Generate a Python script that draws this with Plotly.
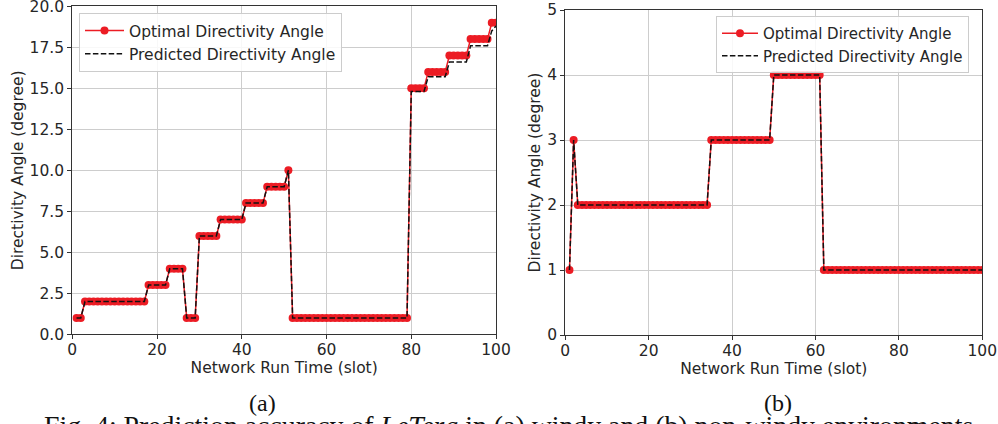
import plotly.graph_objects as go

slots = list(range(1, 101))

# (a) windy environment
optimal_a = [1, 1,
             2, 2, 2, 2, 2, 2, 2, 2, 2, 2, 2, 2, 2, 2, 2,
             3, 3, 3, 3, 3,
             4, 4, 4, 4,
             1, 1, 1,
             6, 6, 6, 6, 6,
             7, 7, 7, 7, 7, 7,
             8, 8, 8, 8, 8,
             9, 9, 9, 9, 9,
             10,
             1, 1, 1, 1, 1, 1, 1, 1, 1, 1, 1, 1, 1, 1, 1, 1, 1, 1, 1, 1, 1, 1, 1, 1, 1, 1, 1, 1,
             15, 15, 15, 15,
             16, 16, 16, 16, 16,
             17, 17, 17, 17, 17,
             18, 18, 18, 18, 18,
             19, 19]
predicted_a = [1, 1,
               2, 2, 2, 2, 2, 2, 2, 2, 2, 2, 2, 2, 2, 2, 2,
               3, 3, 3, 3, 3,
               4, 4, 4, 4,
               1, 1, 1,
               6, 6, 6, 6, 6,
               7, 7, 7, 7, 7, 7,
               8, 8, 8, 8, 8,
               9, 9, 9, 9, 9,
               10,
               1, 1, 1, 1, 1, 1, 1, 1, 1, 1, 1, 1, 1, 1, 1, 1, 1, 1, 1, 1, 1, 1, 1, 1, 1, 1, 1, 1,
               14.8, 14.8, 14.8, 14.8,
               15.7, 15.7, 15.7, 15.7, 15.7,
               16.6, 16.6, 16.6, 16.6, 16.6,
               17.6, 17.6, 17.6, 17.6, 17.6,
               18.5, 18.8]

# (b) non-windy environment
optimal_b = [1, 3,
             2, 2, 2, 2, 2, 2, 2, 2, 2, 2, 2, 2, 2, 2, 2, 2, 2, 2, 2, 2, 2, 2, 2, 2, 2, 2, 2, 2, 2, 2, 2, 2,
             3, 3, 3, 3, 3, 3, 3, 3, 3, 3, 3, 3, 3, 3, 3,
             4, 4, 4, 4, 4, 4, 4, 4, 4, 4, 4, 4,
             1, 1, 1, 1, 1, 1, 1, 1, 1, 1, 1, 1, 1, 1, 1, 1, 1, 1, 1, 1, 1, 1, 1, 1, 1, 1, 1, 1, 1, 1,
             1, 1, 1, 1, 1, 1, 1, 1, 1]
predicted_b = list(optimal_b)

x_ticks = [0, 20, 40, 60, 80, 100]

RED = "#ec1c24"
FONT = "DejaVu Sans"
FS = 15.5
TXT = "#262626"
W, H = 998, 424

fig = go.Figure()
fig.add_trace(go.Scatter(x=slots, y=optimal_a, mode="lines+markers", name="Optimal Directivity Angle",
                         line=dict(color=RED, width=1.5), marker=dict(color=RED, size=8),
                         xaxis="x", yaxis="y", legend="legend"))
fig.add_trace(go.Scatter(x=slots, y=predicted_a, mode="lines", name="Predicted Directivity Angle",
                         line=dict(color="#111111", width=1.5, dash="5.5px,2.4px"),
                         xaxis="x", yaxis="y", legend="legend"))
fig.add_trace(go.Scatter(x=slots, y=optimal_b, mode="lines+markers", name="Optimal Directivity Angle",
                         line=dict(color=RED, width=1.5), marker=dict(color=RED, size=8),
                         xaxis="x2", yaxis="y2", legend="legend2"))
fig.add_trace(go.Scatter(x=slots, y=predicted_b, mode="lines", name="Predicted Directivity Angle",
                         line=dict(color="#111111", width=1.5, dash="5.5px,2.4px"),
                         xaxis="x2", yaxis="y2", legend="legend2"))

axis_common = dict(showline=True, mirror=True, linecolor="#333333", linewidth=1.2,
                   ticks="outside", ticklen=4, tickwidth=1, tickcolor="#333333",
                   showgrid=True, gridcolor="#cdcdcd", gridwidth=1, zeroline=False,
                   ticklabeloverflow="allow",
                   tickfont=dict(family=FONT, size=FS, color=TXT), automargin=False)
title_font = dict(family=FONT, size=FS, color=TXT)

fig.update_layout(
    width=W, height=H,
    margin=dict(l=0, r=0, t=0, b=0, autoexpand=False),
    paper_bgcolor="white", plot_bgcolor="white",
    xaxis=dict(domain=[72.3 / W, 496.0 / W], range=[0, 100], tickvals=x_ticks, ticklabelstandoff=-3,
               title=dict(text="Network Run Time (slot)", font=title_font, standoff=2),
               anchor="y", **axis_common),
    yaxis=dict(domain=[1 - 334.3 / H, 1 - 6.3 / H], range=[0, 20], tickmode="linear", tick0=0, dtick=2.5,
               tickformat=".1f",
               title=dict(text="Directivity Angle (degree)", font=title_font, standoff=2),
               anchor="x", **axis_common),
    xaxis2=dict(domain=[565.3 / W, 982.3 / W], range=[0, 100], tickvals=x_ticks, ticklabelstandoff=-3,
                title=dict(text="Network Run Time (slot)", font=title_font, standoff=2),
                anchor="y2", **axis_common),
    yaxis2=dict(domain=[1 - 335.0 / H, 1 - 10.0 / H], range=[0, 5], tickmode="linear", tick0=0, dtick=1,
                title=dict(text="Directivity Angle (degree)", font=title_font, standoff=2),
                anchor="x2", **axis_common),
    legend=dict(x=79 / W, y=1 - 13 / H, xanchor="left", yanchor="top", itemwidth=39,
                bgcolor="rgba(255,255,255,0.85)", bordercolor="#cccccc", borderwidth=1,
                font=dict(family=FONT, size=FS, color=TXT), tracegroupgap=0),
    legend2=dict(x=716 / W, y=1 - 16 / H, xanchor="left", yanchor="top", itemwidth=36,
                 bgcolor="rgba(255,255,255,0.85)", bordercolor="#cccccc", borderwidth=1,
                 font=dict(family=FONT, size=15, color=TXT), tracegroupgap=0),
    showlegend=True,
)

fig.add_annotation(text="(a)", x=262 / W, y=1 - 403 / H, xref="paper", yref="paper",
                   xanchor="center", yanchor="middle",
                   showarrow=False, font=dict(family="Liberation Serif", size=24, color="#111111"))
fig.add_annotation(text="(b)", x=778 / W, y=1 - 403 / H, xref="paper", yref="paper",
                   xanchor="center", yanchor="middle",
                   showarrow=False, font=dict(family="Liberation Serif", size=24, color="#111111"))
fig.add_annotation(text="Fig. 4: Prediction accuracy of <i>LeTera</i> in (a) windy and (b) non-windy environments.",
                   x=512 / W, y=1 - 408 / H, xref="paper", yref="paper", xanchor="center", yanchor="top",
                   showarrow=False, font=dict(family="Liberation Serif", size=27.8, color="#111111"))

fig.write_html("out.html", post_script="document.body.style.margin='0px';",
               config={"displayModeBar": False})
